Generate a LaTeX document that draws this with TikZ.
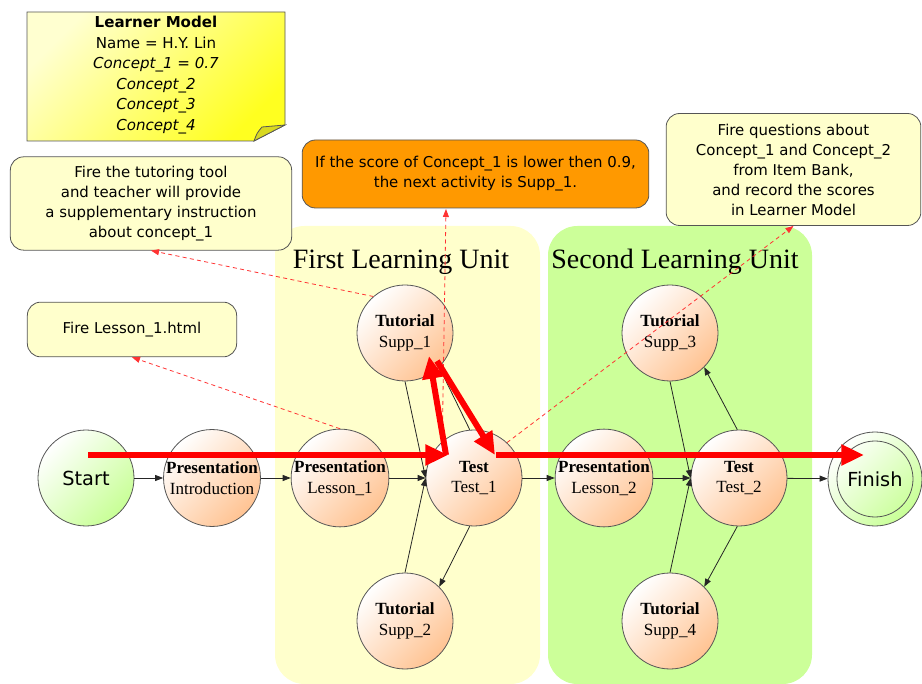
\documentclass[tikz,border=0pt]{standalone}
\usepackage{fontspec}
\setmainfont{Liberation Serif}
\setsansfont{DejaVu Sans}
\usetikzlibrary{arrows.meta,calc}

\definecolor{unitone}{HTML}{FFFFCC}
\definecolor{unittwo}{HTML}{CCFF99}
\definecolor{peach}{HTML}{FFC392}
\definecolor{mint}{HTML}{C8FF96}
\definecolor{notelight}{HTML}{FFFFD0}
\definecolor{notedark}{HTML}{FFFF20}
\definecolor{flap}{HTML}{D8D820}
\definecolor{calloutfill}{HTML}{FFFFCC}
\definecolor{orangefill}{HTML}{FF9900}
\definecolor{edge}{HTML}{555555}

\tikzset{
  act/.style={circle, draw=edge, line width=0.6pt, minimum size=72pt, inner sep=0pt,
    top color=white, bottom color=peach, shading angle=45,
    align=center, font=\fontsize{12.8}{15.5}\selectfont},
  endpt/.style={circle, draw=edge, line width=0.6pt, inner sep=0pt,
    top color=white, bottom color=mint, shading angle=45,
    font=\sffamily\fontsize{14.5}{16}\selectfont},
  callout/.style={rectangle, rounded corners=10pt, draw=edge, line width=0.6pt,
    fill=calloutfill, align=center, inner sep=2pt,
    font=\sffamily\fontsize{11.2}{15}\selectfont},
  flow/.style={draw=black!85, line width=0.6pt, -{Triangle[length=6pt,width=4.5pt]}},
  hint/.style={draw=red!80!white, line width=0.6pt, dashed, dash pattern=on 3pt off 2.5pt,
    -{Triangle[length=6pt,width=4.5pt]}},
  route/.style={draw=red, line width=4.5pt, -{Triangle[length=17pt,width=15pt]}},
  unittitle/.style={font=\fontsize{21}{24}\selectfont, inner sep=0pt},
}

\begin{document}
\begin{tikzpicture}[x=0.75pt,y=-0.75pt]
\useasboundingbox (0,0) rectangle (922,684);

% learning unit panels
\fill[unitone, rounded corners=22pt] (275,226) rectangle (540,684);
\fill[unittwo, rounded corners=22pt] (548,226) rectangle (812,684);
\node[unittitle] (titleone) at (401,262) {First Learning Unit};
\node[unittitle] (titletwo) at (675,262) {Second Learning Unit};

% learner model note with folded corner
\shade[top color=notelight, bottom color=notedark, shading angle=45, draw=edge, line width=0.6pt]
  (27,12) -- (285,12) -- (285,125) -- (254,141) -- (27,141) -- cycle;
\filldraw[fill=flap, draw=edge, line width=0.6pt]
  (254,141) .. controls (257,133) .. (262,127) -- (285,125) -- cycle;
\node[align=center, font=\sffamily\fontsize{11.3}{15.4}\selectfont] (model) at (156,75)
  {\textbf{Learner Model}\\Name = H.Y. Lin\\\textit{Concept\_1 = 0.7}\\\textit{Concept\_2}\\\textit{Concept\_3}\\\textit{Concept\_4}};

% callouts
\node[callout, minimum width=211pt, minimum height=70pt] (tutorbox) at (151,203.5)
  {Fire the tutoring tool\\and teacher will provide\\a supplementary instruction\\about concept\_1};
\node[callout, minimum width=157pt, minimum height=41pt] (lessonbox) at (132,329.5)
  {Fire Lesson\_1.html};
\node[callout, fill=orangefill, minimum width=260pt, minimum height=51pt] (orangebox) at (475.5,174)
  {If the score of Concept\_1 is lower then 0.9,\\the next activity is Supp\_1.};
\node[callout, minimum width=191pt, minimum height=84pt] (questbox) at (793.5,169.5)
  {Fire questions about\\Concept\_1 and Concept\_2\\from Item Bank,\\and record the scores\\in Learner Model};

% activities
\node[endpt, minimum size=72pt] (start) at (86,478) {Start};
\node[act] (intro) at (212,478) {\textbf{Presentation}\\Introduction};
\node[act] (lesson1) at (340,478) {\textbf{Presentation}\\Lesson\_1};
\node[act] (test1) at (474,478) {\textbf{Test}\\Test\_1};
\node[act] (supp1) at (405,333) {\textbf{Tutorial}\\Supp\_1};
\node[act] (supp2) at (405,621) {\textbf{Tutorial}\\Supp\_2};
\node[act] (lesson2) at (604,478) {\textbf{Presentation}\\Lesson\_2};
\node[act] (test2) at (739,478) {\textbf{Test}\\Test\_2};
\node[act] (supp3) at (670,333) {\textbf{Tutorial}\\Supp\_3};
\node[act] (supp4) at (670,621) {\textbf{Tutorial}\\Supp\_4};
\node[endpt, minimum size=70.5pt] (finish) at (875,479) {};
\node[circle, draw=edge, line width=0.6pt, minimum size=57pt, inner sep=0pt,
  font=\sffamily\fontsize{14.5}{16}\selectfont] (finishin) at (finish.center) {Finish};

% sequencing arrows
\draw[flow] (start) -- (intro);
\draw[flow] (intro) -- (lesson1);
\draw[flow] (lesson1) -- (test1);
\draw[flow] (supp1.south) -- (test1.west);
\draw[flow] (supp2.north) -- (test1.west);
\draw[flow] (test1.95) -- (supp1.-45);
\draw[flow] (test1.-95) -- (supp2.45);
\draw[flow] (test1) -- (lesson2);
\draw[flow] (lesson2) -- (test2);
\draw[flow] (supp3.south) -- (test2.west);
\draw[flow] (supp4.north) -- (test2.west);
\draw[flow] (test2.92) -- (supp3.-45);
\draw[flow] (test2.-92) -- (supp4.45);
\draw[flow] (test2) -- (finish);

% annotations
\coordinate (orangetip) at (446,209);
\draw[hint] (supp1.131) -- (tutorbox.south);
\draw[hint] (lesson1.north) -- (lessonbox.south);
\draw[hint] (test1.131) -- (orangetip);
\draw[hint] (test1.47) -- (questbox.south);

% learning path taken
\coordinate (pathA) at (88,455);
\coordinate (pathB) at (448,455);
\coordinate (pathC) at (446,455);
\coordinate (pathD) at (429,356);
\coordinate (pathE) at (437,361);
\coordinate (pathF) at (495,455);
\coordinate (pathG) at (496,455);
\coordinate (pathH) at (864,455);
\draw[route] (pathA) -- (pathB);
\draw[route] (pathC) -- (pathD);
\draw[route] (pathE) -- (pathF);
\draw[route] (pathG) -- (pathH);
\end{tikzpicture}
\end{document}
